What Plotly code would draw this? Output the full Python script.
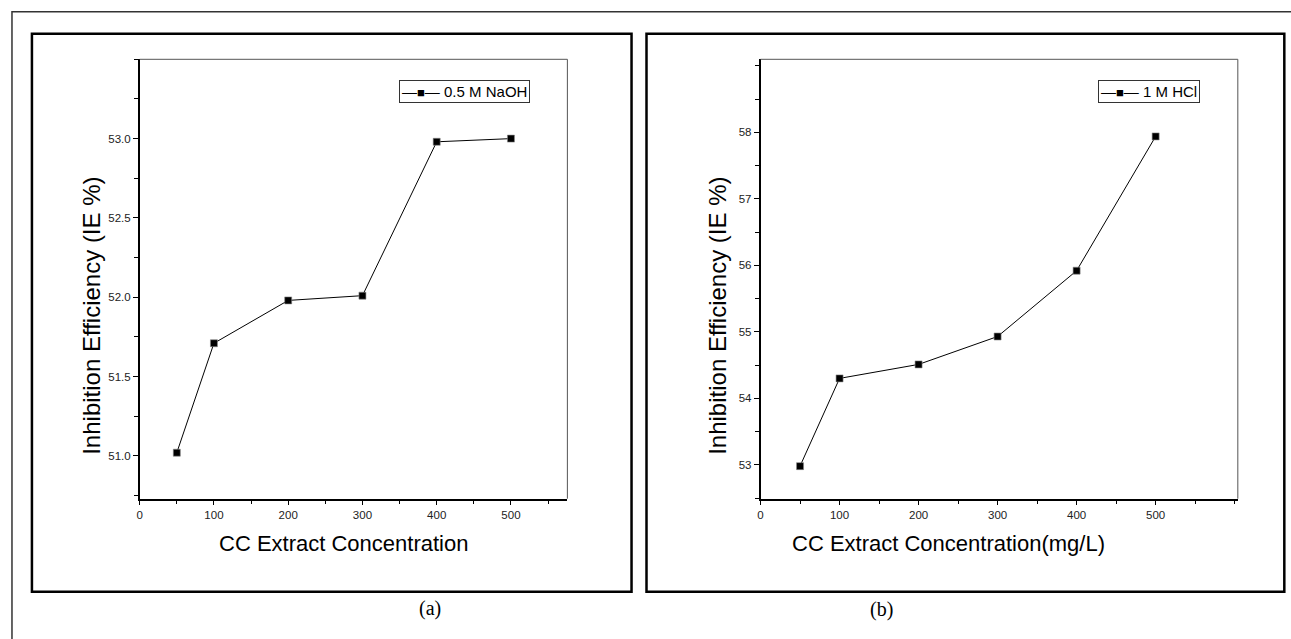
import plotly.graph_objects as go

# ---- data ----
conc = [50, 100, 200, 300, 400, 500]
ie_naoh = [51.02, 51.71, 51.98, 52.01, 52.98, 53.00]
ie_hcl = [52.98, 54.30, 54.51, 54.93, 55.92, 57.94]
label_a = "0.5 M NaOH"
label_b = "1 M HCl"
xtitle_a = "CC Extract Concentration"
xtitle_b = "CC Extract Concentration(mg/L)"
ytitle = "Inhibition Efficiency (IE %)"
x_ticks = [0, 100, 200, 300, 400, 500]
y_ticks_a = [51.0, 51.5, 52.0, 52.5, 53.0]
y_ticks_b = [53, 54, 55, 56, 57, 58]

W, H = 1291, 639


def px(x):
    return x / W


def py(y):
    return 1 - y / H


FONT = "Liberation Sans, Arial"
TXT = "Liberation Sans, Arial"

fig = go.Figure()
fig.add_trace(go.Scatter(
    x=conc, y=ie_naoh, name=label_a, mode="lines+markers",
    line=dict(color="black", width=1),
    marker=dict(symbol="square", size=7, color="black", line=dict(color="#888", width=0.6)),
    xaxis="x", yaxis="y", showlegend=False))
fig.add_trace(go.Scatter(
    x=conc, y=ie_hcl, name=label_b, mode="lines+markers",
    line=dict(color="black", width=1),
    marker=dict(symbol="square", size=7, color="black", line=dict(color="#888", width=0.6)),
    xaxis="x2", yaxis="y2", showlegend=False))

ax_common = dict(
    showline=True, linecolor="black", linewidth=1.5, mirror=False,
    ticks="outside", ticklen=5, tickwidth=1, tickcolor="black",
    showgrid=False, zeroline=False,
    tickfont=dict(family=FONT, size=11.5, color="#222"),
)

pa = dict(l=137, r=565.7, t=59.3, b=498.7)
pb = dict(l=759.3, r=1237.7, t=59.3, b=498.7)

fig.update_layout(
    width=W, height=H, margin=dict(l=0, r=0, t=0, b=0),
    paper_bgcolor="white", plot_bgcolor="white",
    xaxis=dict(domain=[px(pa["l"]), px(pa["r"])], anchor="y", range=[0, 576],
               tickvals=x_ticks, ticktext=[str(v) for v in x_ticks],
               minor=dict(dtick=50, tick0=0, ticks="outside", ticklen=4, tickcolor="black"),
               **ax_common),
    yaxis=dict(domain=[py(pa["b"]), py(pa["t"])], anchor="x", range=[50.73, 53.5],
               tickvals=y_ticks_a, ticktext=[f"{v:.1f}" for v in y_ticks_a],
               minor=dict(dtick=0.25, tick0=50.75, ticks="outside", ticklen=4, tickcolor="black"),
               **ax_common),
    xaxis2=dict(domain=[px(pb["l"]), px(pb["r"])], anchor="y2", range=[0, 604],
                tickvals=x_ticks, ticktext=[str(v) for v in x_ticks],
                minor=dict(dtick=50, tick0=0, ticks="outside", ticklen=4, tickcolor="black"),
                **ax_common),
    yaxis2=dict(domain=[py(pb["b"]), py(pb["t"])], anchor="x2", range=[52.49, 59.1],
                tickvals=y_ticks_b, ticktext=[str(v) for v in y_ticks_b],
                minor=dict(dtick=0.5, tick0=52.5, ticks="outside", ticklen=4, tickcolor="black"),
                **ax_common),
    showlegend=False,
)

shapes = []
# outer border (extends past the right and bottom edges)
shapes.append(dict(type="rect", xref="paper", yref="paper",
                   x0=px(9), x1=px(1300), y0=py(650), y1=py(11.7),
                   line=dict(color="#333", width=1.5)))
# panel boxes
for (l, r) in [(29, 630), (645, 1284.3)]:
    shapes.append(dict(type="rect", xref="paper", yref="paper",
                       x0=px(l), x1=px(r), y0=py(591.7), y1=py(33.7),
                       line=dict(color="black", width=2.5)))
# top/right frame of plot areas (thin)
for p in (pa, pb):
    shapes.append(dict(type="path", xref="paper", yref="paper",
                       path=f"M {px(p['l'])},{py(p['t'])} L {px(p['r'])},{py(p['t'])} L {px(p['r'])},{py(p['b'])}",
                       line=dict(color="#555", width=1)))
fig.update_layout(shapes=shapes)

SYM = '—<span style="font-size:13px">■</span>—'


def legend_box(label, x, y):
    return dict(text=f"{SYM} {label}", x=px(x), y=py(y), xref="paper", yref="paper",
                showarrow=False, xanchor="left", yanchor="top", align="left",
                font=dict(family="Liberation Sans, DejaVu Sans", size=15, color="black"),
                bgcolor="white", bordercolor="#333", borderwidth=1, borderpad=2)


annotations = [
    dict(text=ytitle, x=px(88), y=py(316), xref="paper", yref="paper", textangle=-90,
         showarrow=False, font=dict(family=TXT, size=24, color="black"), xanchor="center", yanchor="middle"),
    dict(text=ytitle, x=px(715.5), y=py(316), xref="paper", yref="paper", textangle=-90,
         showarrow=False, font=dict(family=TXT, size=24, color="black"), xanchor="center", yanchor="middle"),
    dict(text=xtitle_a, x=px(341.7), y=py(543), xref="paper", yref="paper",
         showarrow=False, font=dict(family=TXT, size=22, color="black"), xanchor="center", yanchor="middle"),
    dict(text=xtitle_b, x=px(948), y=py(543), xref="paper", yref="paper",
         showarrow=False, font=dict(family=TXT, size=22, color="black"), xanchor="center", yanchor="middle"),
    dict(text="(a)", x=px(428), y=py(608), xref="paper", yref="paper",
         showarrow=False, font=dict(family="Liberation Serif, Times New Roman", size=20, color="black"),
         xanchor="center", yanchor="middle"),
    dict(text="(b)", x=px(881), y=py(609), xref="paper", yref="paper",
         showarrow=False, font=dict(family="Liberation Serif, Times New Roman", size=20, color="black"),
         xanchor="center", yanchor="middle"),
    legend_box(label_a, 397, 80),
    legend_box(label_b, 1097.3, 79.5),
]
fig.update_layout(annotations=annotations)

fig.write_html("out.html")
